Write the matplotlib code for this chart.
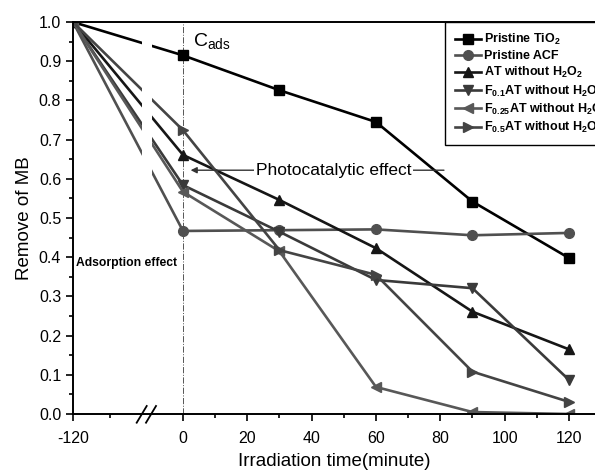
import numpy as np
import matplotlib
matplotlib.use('Agg')
import matplotlib.pyplot as plt
from matplotlib.lines import Line2D

plt.rcParams['font.family'] = ['Liberation Sans', 'DejaVu Sans']
plt.rcParams['mathtext.fontset'] = 'custom'
plt.rcParams['mathtext.rm'] = 'Liberation Sans'
plt.rcParams['mathtext.it'] = 'Liberation Sans:italic'
plt.rcParams['mathtext.bf'] = 'Liberation Sans:bold'

# dati
tempo = [-120, 0, 30, 60, 90, 120]
tio2 = [1.0, 0.915, 0.826, 0.745, 0.542, 0.398]
acf = [1.0, 0.467, 0.469, 0.471, 0.456, 0.462]
at = [1.0, 0.661, 0.546, 0.423, 0.261, 0.165]
f01 = [1.0, 0.584, 0.465, 0.342, 0.321, 0.087]
f025 = [1.0, 0.567, 0.415, 0.069, 0.005, 0.0]
f05 = [1.0, 0.724, 0.418, 0.355, 0.108, 0.031]

etichette = ['Pristine TiO$_\\mathbf{2}$', 'Pristine ACF',
             'AT without H$_\\mathbf{2}$O$_\\mathbf{2}$',
             'F$_\\mathbf{0.1}$AT without H$_\\mathbf{2}$O$_\\mathbf{2}$',
             'F$_\\mathbf{0.25}$AT without H$_\\mathbf{2}$O$_\\mathbf{2}$',
             'F$_\\mathbf{0.5}$AT without H$_\\mathbf{2}$O$_\\mathbf{2}$']
colori = ['#000000', '#505050', '#161616', '#3a3a3a', '#585858', '#444444']
marker = ['s', 'o', '^', 'v', '<', '>']
serie = [tio2, acf, at, f01, f025, f05]

xticks = [-120, 0, 20, 40, 60, 80, 100, 120]
k = 0.285  # compressione della parte negativa (asse spezzato)


def fwd(x):
    x = np.asarray(x, float)
    return np.where(x < 0, x * k, x)


def inv(x):
    x = np.asarray(x, float)
    return np.where(x < 0, x / k, x)


fig = plt.figure(figsize=(5.95, 4.71), dpi=100)
ax = fig.add_axes([0.1227, 0.121, 0.8773, 0.8322])
ax.set_xscale('function', functions=(fwd, inv))

for y, c, m, lab in zip(serie, colori, marker, etichette):
    ax.plot(tempo, y, c=c, marker=m, ms=7, lw=1.9, label=lab, zorder=2)

# interruzione delle linee in corrispondenza dell'asse spezzato
ax.axvspan(-44.6, -33.8, ymin=0.01, ymax=0.99, color='white', zorder=3, lw=0)
ax.axvline(0, c='#555555', lw=0.7, ls='-.', zorder=1)

ax.set_xlim(-120, 128.1)
ax.set_ylim(0, 1.0)
ax.set_xticks(xticks)
ax.set_xticklabels([str(t) for t in xticks])
ax.set_xticks([-80, 10, 30, 50, 70, 90, 110], minor=True)
ax.set_yticks(np.arange(0, 1.01, 0.1))
ax.set_yticklabels(['{:.1f}'.format(v) for v in np.arange(0, 1.01, 0.1)])
ax.set_yticks(np.arange(0.05, 1.0, 0.1), minor=True)
ax.tick_params(which='major', length=5, width=1.2, labelsize=11.5)
ax.tick_params(axis='x', which='major', pad=7)
ax.tick_params(which='minor', length=3, width=1.2)
ax.spines['right'].set_visible(False)
for s in ['left', 'bottom', 'top']:
    ax.spines[s].set_linewidth(1.4)

ax.set_xlabel('Irradiation time(minute)', fontsize=13.5, labelpad=5)
ax.set_ylabel('Remove of MB', fontsize=13.5, labelpad=4)

# segni di interruzione sull'asse x
for x0 in [136.7, 146.0]:
    fig.add_artist(Line2D([x0 / 595, (x0 + 10) / 595],
                          [1 - 422.7 / 471, 1 - 406 / 471],
                          c='black', lw=1.3))

ax.text(3, 0.925, 'C$_{\\mathrm{ads}}$', fontsize=14, va='bottom')
ax.text(-117, 0.385, 'Adsorption effect', fontsize=8.7, fontweight='bold', va='center')

ax.annotate('', xy=(1.5, 0.622), xytext=(82, 0.622),
            arrowprops=dict(arrowstyle='-|>', color='#333333', lw=1.0,
                            mutation_scale=9), zorder=4)
ax.text(46.8, 0.622, 'Photocatalytic effect', fontsize=12.5, ha='center', va='center',
        bbox=dict(fc='white', ec='none', pad=1), zorder=5)

leg = ax.legend(loc='upper left', bbox_to_anchor=(445 / 595, 1 - 22 / 471),
                bbox_transform=fig.transFigure, fancybox=False, edgecolor='black',
                framealpha=1, prop={'weight': 'bold', 'size': 9},
                handlelength=2.1, labelspacing=0.25, borderpad=0.8,
                handletextpad=0.2, borderaxespad=0)
leg.get_frame().set_linewidth(1.0)

plt.savefig('out.png', dpi=100)
